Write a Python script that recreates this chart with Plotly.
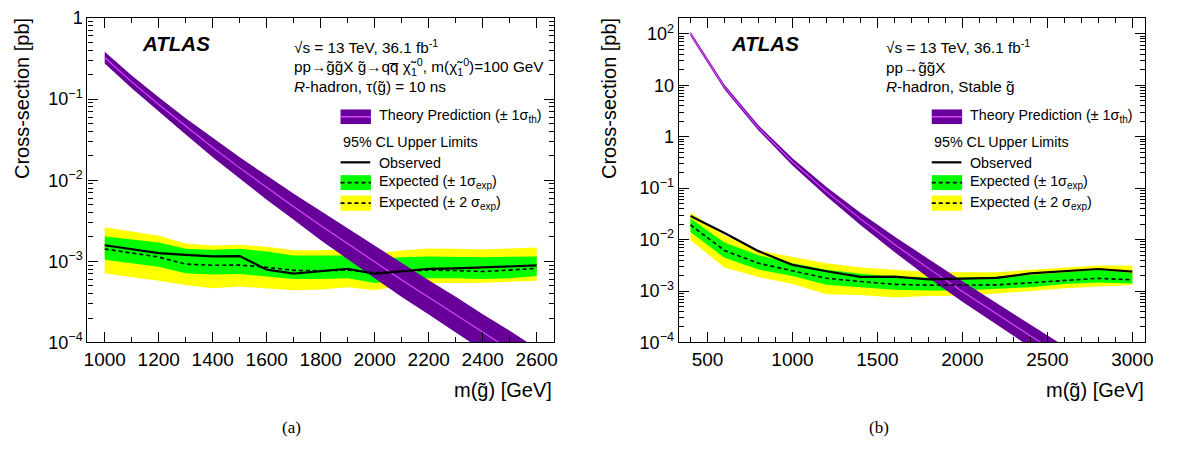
import plotly.graph_objects as go

W, H = 1178, 457

# ---------------- data: panel (a) ----------------
mass_a = [1000, 1100, 1200, 1300, 1400, 1500, 1600, 1700, 1800, 1900, 2000, 2100, 2200, 2300, 2400, 2500, 2600]
obs_a = [1.58e-3, 1.42e-3, 1.26e-3, 1.20e-3, 1.15e-3, 1.16e-3, 7.9e-4, 7.06e-4, 7.6e-4, 8.1e-4, 7.0e-4, 7.6e-4, 8.1e-4, 8.2e-4, 8.4e-4, 8.6e-4, 8.9e-4]
exp_a = [1.42e-3, 1.27e-3, 1.13e-3, 9.25e-4, 8.93e-4, 9.0e-4, 8.46e-4, 7.74e-4, 7.65e-4, 7.8e-4, 7.24e-4, 7.55e-4, 7.8e-4, 7.7e-4, 7.5e-4, 7.8e-4, 8.23e-4]
g_hi_a = [2.02e-3, 1.86e-3, 1.71e-3, 1.43e-3, 1.39e-3, 1.43e-3, 1.32e-3, 1.18e-3, 1.18e-3, 1.18e-3, 1.06e-3, 1.12e-3, 1.15e-3, 1.14e-3, 1.12e-3, 1.14e-3, 1.15e-3]
g_lo_a = [1.05e-3, 9.6e-4, 8.6e-4, 7.15e-4, 6.9e-4, 7.0e-4, 6.5e-4, 6.05e-4, 6.05e-4, 6.2e-4, 5.4e-4, 5.95e-4, 6.2e-4, 6.2e-4, 6.05e-4, 6.2e-4, 6.6e-4]
y_hi_a = [2.64e-3, 2.35e-3, 2.07e-3, 1.66e-3, 1.57e-3, 1.6e-3, 1.51e-3, 1.37e-3, 1.37e-3, 1.41e-3, 1.26e-3, 1.36e-3, 1.44e-3, 1.43e-3, 1.4e-3, 1.44e-3, 1.48e-3]
y_lo_a = [7.1e-4, 6.45e-4, 5.75e-4, 5.1e-4, 4.65e-4, 4.9e-4, 4.65e-4, 4.4e-4, 4.5e-4, 4.8e-4, 4.4e-4, 5.0e-4, 5.4e-4, 5.4e-4, 5.45e-4, 5.55e-4, 5.75e-4]
th_a = [0.325, 0.163, 0.0856, 0.0461, 0.0253, 0.0142, 0.0081, 0.0047, 0.00276, 0.00164, 0.00098, 0.00059, 0.00036, 0.00022, 0.000134, 8.2e-5, 5.0e-5]
th_dex_a = [0.072, 0.08, 0.09, 0.10, 0.12, 0.13, 0.15, 0.16, 0.18, 0.19, 0.20, 0.21, 0.21, 0.22, 0.22, 0.23, 0.23]

# ---------------- data: panel (b) ----------------
mass_b = [400, 600, 800, 1000, 1200, 1400, 1600, 1800, 2000, 2200, 2400, 2600, 2800, 3000]
obs_b = [2.88e-2, 1.35e-2, 5.97e-3, 3.23e-3, 2.43e-3, 1.88e-3, 1.9e-3, 1.68e-3, 1.75e-3, 1.8e-3, 2.2e-3, 2.4e-3, 2.68e-3, 2.39e-3]
exp_b = [1.93e-2, 6.15e-3, 3.47e-3, 2.5e-3, 1.77e-3, 1.53e-3, 1.35e-3, 1.3e-3, 1.3e-3, 1.32e-3, 1.45e-3, 1.58e-3, 1.77e-3, 1.65e-3]
g_hi_b = [2.57e-2, 8.8e-3, 4.97e-3, 3.47e-3, 2.6e-3, 2.16e-3, 1.9e-3, 1.83e-3, 1.83e-3, 1.9e-3, 2.05e-3, 2.3e-3, 2.6e-3, 2.25e-3]
g_lo_b = [1.41e-2, 4.42e-3, 2.61e-3, 1.96e-3, 1.33e-3, 1.19e-3, 1.06e-3, 1.03e-3, 1.03e-3, 1.1e-3, 1.19e-3, 1.37e-3, 1.47e-3, 1.4e-3]
y_hi_b = [3.42e-2, 1.2e-2, 6.15e-3, 4.6e-3, 3.47e-3, 2.88e-3, 2.6e-3, 2.35e-3, 2.32e-3, 2.32e-3, 2.6e-3, 2.88e-3, 3.14e-3, 3.14e-3]
y_lo_b = [9.7e-3, 2.88e-3, 1.87e-3, 1.37e-3, 8.7e-4, 8.4e-4, 7.5e-4, 8.0e-4, 8.1e-4, 8.9e-4, 1.0e-3, 1.14e-3, 1.22e-3, 1.31e-3]
mass_th_b = [400, 600, 800, 1000, 1200, 1400, 1600, 1800, 2000, 2200, 2400, 2600]
th_b = [100.0, 9.2, 1.49, 0.325, 0.0856, 0.0253, 0.0081, 0.00276, 0.00098, 0.00036, 0.000134, 5.0e-5]
th_dex_b = [0.04, 0.045, 0.05, 0.07, 0.09, 0.12, 0.15, 0.18, 0.20, 0.21, 0.22, 0.23]

# tick labels
yticks_a = [1e-4, 1e-3, 1e-2, 1e-1, 1]
yticktext_a = ["10<sup>\u22124</sup>", "10<sup>\u22123</sup>", "10<sup>\u22122</sup>", "10<sup>\u22121</sup>", "1"]
yticks_b = [1e-4, 1e-3, 1e-2, 1e-1, 1, 10, 100]
yticktext_b = ["10<sup>\u22124</sup>", "10<sup>\u22123</sup>", "10<sup>\u22122</sup>", "10<sup>\u22121</sup>", "1", "10", "10<sup>2</sup>"]
xticks_a = [1000, 1200, 1400, 1600, 1800, 2000, 2200, 2400, 2600]
xticks_b = [500, 1000, 1500, 2000, 2500, 3000]

# ---------------- styling ----------------
PURPLE = "rgb(102,0,153)"
PINK = "rgb(214,70,255)"
GREEN = "rgb(0,255,0)"
YELLOW = "rgb(255,255,0)"
FONT = "Liberation Sans, Arial, Helvetica, sans-serif"
DASH = "4px,3px"


def px(x):
    return x / W


def py(y):
    return 1 - y / H


fig = go.Figure()


def add_band(x, lo, hi, color, xa, ya):
    fig.add_trace(go.Scatter(x=list(x) + list(x)[::-1], y=list(hi) + list(lo)[::-1],
                             fill="toself", fillcolor=color, mode="lines",
                             line=dict(width=0, color=color), xaxis=xa, yaxis=ya,
                             showlegend=False, hoverinfo="skip"))


def add_panel(mass, obs, exp, g_lo, g_hi, y_lo, y_hi, mth, th, dex, xa, ya):
    add_band(mass, y_lo, y_hi, YELLOW, xa, ya)
    add_band(mass, g_lo, g_hi, GREEN, xa, ya)
    th_hi = [v * 10 ** d for v, d in zip(th, dex)]
    th_lo = [v / 10 ** d for v, d in zip(th, dex)]
    add_band(mth, th_lo, th_hi, PURPLE, xa, ya)
    fig.add_trace(go.Scatter(x=mth, y=th, mode="lines", line=dict(color=PINK, width=1.2),
                             xaxis=xa, yaxis=ya, showlegend=False))
    fig.add_trace(go.Scatter(x=mass, y=exp, mode="lines", line=dict(color="black", width=1.6, dash=DASH),
                             xaxis=xa, yaxis=ya, showlegend=False))
    fig.add_trace(go.Scatter(x=mass, y=obs, mode="lines", line=dict(color="black", width=2.2),
                             xaxis=xa, yaxis=ya, showlegend=False))


add_panel(mass_a, obs_a, exp_a, g_lo_a, g_hi_a, y_lo_a, y_hi_a, mass_a, th_a, th_dex_a, "x", "y")
add_panel(mass_b, obs_b, exp_b, g_lo_b, g_hi_b, y_lo_b, y_hi_b, mass_th_b, th_b, th_dex_b, "x2", "y2")

ydom = [py(347.7), py(8.3)]


def minor_log(lo, hi):
    vals = []
    for e in range(lo, hi):
        for k in range(2, 10):
            vals.append(k * 10 ** e)
    return vals


common_axis = dict(showline=True, linecolor="black", linewidth=1.3, mirror="allticks",
                   ticks="inside", tickcolor="black", tickwidth=1.1, showgrid=False, zeroline=False,
                   ticklabeloverflow="allow")
xfont = dict(family=FONT, size=19, color="black")
yfont = dict(family=FONT, size=18, color="black")

fig.update_layout(
    width=W, height=H, margin=dict(l=0, r=0, t=0, b=0),
    paper_bgcolor="white", plot_bgcolor="white",
    xaxis=dict(domain=[px(84.3), px(555.7)], range=[936, 2664], tickmode="array", tickvals=xticks_a,
               ticklen=10, anchor="y", tickfont=xfont,
               minor=dict(dtick=100, tick0=0, ticks="inside", ticklen=5, tickcolor="black", tickwidth=1.1),
               **common_axis),
    yaxis=dict(domain=ydom, type="log", range=[-4, 0.0002], tickmode="array", tickvals=yticks_a,
               ticktext=yticktext_a, ticklen=10, anchor="x", tickfont=yfont,
               minor=dict(tickmode="array", tickvals=minor_log(-4, 0), ticks="inside", ticklen=5,
                          tickcolor="black", tickwidth=1.1),
               **common_axis),
    xaxis2=dict(domain=[px(681.7), px(1152.7)], range=[331, 3074], tickmode="array", tickvals=xticks_b,
                ticklen=10, anchor="y2", tickfont=xfont,
                minor=dict(dtick=100, tick0=0, ticks="inside", ticklen=5, tickcolor="black", tickwidth=1.1),
                **common_axis),
    yaxis2=dict(domain=ydom, type="log", range=[-4, 2.31], tickmode="array", tickvals=yticks_b,
                ticktext=yticktext_b, ticklen=10, anchor="x2", tickfont=yfont,
                minor=dict(tickmode="array", tickvals=minor_log(-4, 3), ticks="inside", ticklen=5,
                           tickcolor="black", tickwidth=1.1),
                **common_axis),
)

ann = []
shapes = []


def text(x, y, s, size=14.5, xanchor="left", family=FONT, **kw):
    ann.append(dict(x=px(x), y=py(y), xref="paper", yref="paper", text=s, showarrow=False,
                    xanchor=xanchor, yanchor="middle", font=dict(family=family, size=size, color="black"), **kw))


gt = "g\u0303"
qbar = "q\u0305"
chi = "\u03c7\u0303<sub>1</sub><sup>0</sup>"

for off, lines3, title_x, xt_right, cap, cap_x in [
    (0, ["\u221as = 13 TeV, 36.1 fb<sup>-1</sup>",
         "pp\u2192" + gt + gt + "X " + gt + "\u2192q" + qbar + " " + chi + ", m(" + chi + ")=100 GeV",
         "<i>R</i>-hadron, \u03c4(" + gt + ") = 10 ns"], 17.5, 556, "(a)", 290),
    (597.3, ["\u221as = 13 TeV, 36.1 fb<sup>-1</sup>",
             "pp\u2192" + gt + gt + "X",
             "<i>R</i>-hadron, Stable " + gt], 610.5, 1153.3, "(b)", 884),
]:
    ax0 = 290.7 + off * (598.6 / 597.3)
    text(137 + off * (595.7 / 597.3), 35.5, "<b><i>ATLAS</i></b>", size=20.5)
    for i, s in enumerate(lines3):
        text(ax0, [38.5, 60, 80.5][i], s, size=15.3)
    lx0 = 340 + off
    lx1 = 370.7 + off
    tx = 376.7 + off
    # Theory
    shapes.append(dict(type="rect", xref="paper", yref="paper", x0=px(lx0), x1=px(lx1), y0=py(119.3), y1=py(104),
                       fillcolor=PURPLE, line=dict(width=0)))
    shapes.append(dict(type="line", xref="paper", yref="paper", x0=px(lx0), x1=px(lx1), y0=py(111.7), y1=py(111.7),
                       line=dict(color=PINK, width=1.5)))
    text(tx, 111, "Theory Prediction (\u00b1 1\u03c3<sub>th</sub>)", size=14.3)
    text(lx0, 138.5, "95% CL Upper Limits", size=14.3)
    shapes.append(dict(type="line", xref="paper", yref="paper", x0=px(lx0), x1=px(lx1 - 0.7), y0=py(159.3), y1=py(159.3),
                       line=dict(color="black", width=2.2)))
    text(tx, 159.5, "Observed", size=14.3)
    for (yy0, yy1, col, lab) in [(172.7, 188.3, GREEN, "Expected (\u00b1 1\u03c3<sub>exp</sub>)"),
                                 (194, 210, YELLOW, "Expected (\u00b1 2 \u03c3<sub>exp</sub>)")]:
        shapes.append(dict(type="rect", xref="paper", yref="paper", x0=px(lx0), x1=px(lx1), y0=py(yy1), y1=py(yy0),
                           fillcolor=col, line=dict(width=0)))
        ym = (yy0 + yy1) / 2
        shapes.append(dict(type="line", xref="paper", yref="paper", x0=px(lx0), x1=px(lx1), y0=py(ym), y1=py(ym),
                           line=dict(color="black", width=1.6, dash=DASH)))
        text(tx, ym - 0.5, lab, size=14.3)
    # axis titles
    ann.append(dict(x=px(xt_right), y=py(397.5), xref="paper", yref="paper", text="m(" + gt + ") [GeV]",
                    showarrow=False, xanchor="right", yanchor="middle",
                    font=dict(family=FONT, size=20, color="black")))
    ann.append(dict(x=px(title_x), y=py(6.5), xref="paper", yref="paper", text="Cross-section [pb]",
                    showarrow=False, xanchor="center", yanchor="top", textangle=-90,
                    font=dict(family=FONT, size=20, color="black")))
    ann.append(dict(x=px(cap_x), y=py(437), xref="paper", yref="paper", text=cap, showarrow=False,
                    xanchor="center", yanchor="middle",
                    font=dict(family="Liberation Serif, Times New Roman, serif", size=17, color="black")))

fig.update_layout(annotations=ann, shapes=shapes)

fig.write_html("out.html", config={"displayModeBar": False},
               post_script="document.body.style.margin='0';document.body.style.padding='0';")
